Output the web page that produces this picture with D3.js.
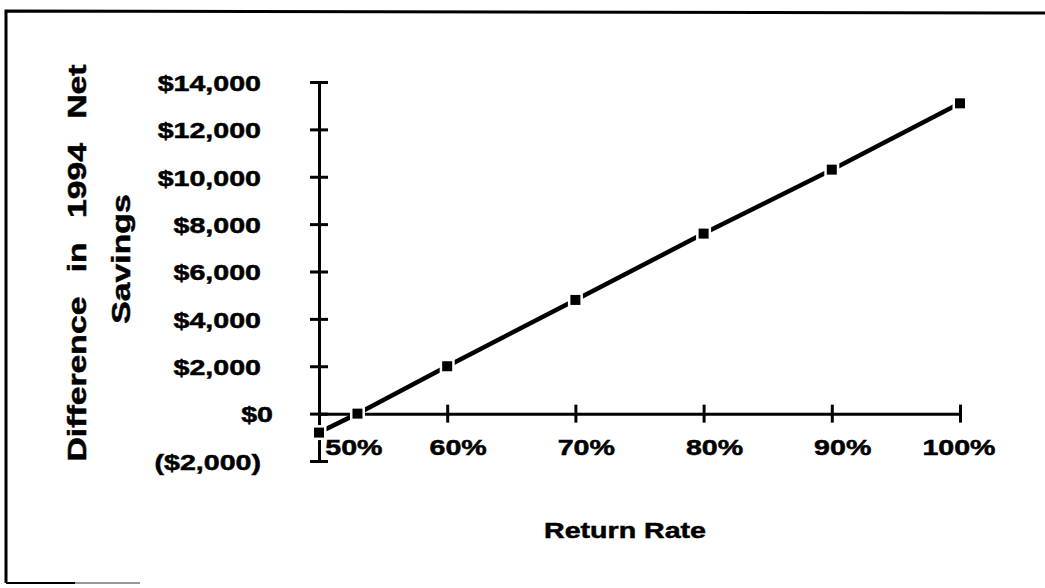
<!DOCTYPE html>
<html>
<head>
<meta charset="utf-8">
<script src="https://cdn.jsdelivr.net/npm/d3@7"></script>
<style>
  html, body { margin: 0; padding: 0; background: #fff; }
  svg text { font-family: "Liberation Sans", Arial, sans-serif; font-weight: bold; fill: #000; stroke: #000; stroke-width: 0.5px; }
</style>
</head>
<body>
<div id="chart"></div>
<script>
// data
const returnRates = [50, 53, 60, 70, 80, 90, 100];
const savingsDiff = [-800, 0, 2000, 4800, 7600, 10300, 13100];
const xTicks = [50, 60, 70, 80, 90, 100];
const yTicks = [-2000, 0, 2000, 4000, 6000, 8000, 10000, 12000, 14000];
const titleY1 = "Difference in 1994 Net";
const titleY2 = "Savings";
const titleX = "Return Rate";

main();

function main () {
  const width = 1045,
    height = 588;
  const fontSize = 22;
  const titleSize = 25;
  const stretch = 1.3; // the scanned type is wide, stretch it horizontally
  const titleStretch = 1.35;

  const svg = d3.select("#chart")
    .append("svg")
    .attr("width", width)
    .attr("height", height);

  // frame (scanned page border, left/top only)
  svg.append("path")
    .attr("d", "M6,583 L6,11 L1045,13")
    .attr("fill", "none")
    .attr("stroke", "#000")
    .attr("stroke-width", 3);
  svg.append("line")
    .attr("x1", 6).attr("x2", 75).attr("y1", 583).attr("y2", 583)
    .attr("stroke", "#000").attr("stroke-width", 2);
  svg.append("line")
    .attr("x1", 75).attr("x2", 140).attr("y1", 583).attr("y2", 583)
    .attr("stroke", "#999").attr("stroke-width", 2);

  // scales
  const scaleX = d3.scaleLinear().domain([50, 100]).range([319, 960]);
  const scaleY = d3.scaleLinear().domain([-2000, 14000]).range([461, 82]);

  const fmt = (v) => v < 0 ? `($${d3.format(",")(-v)})` : `$${d3.format(",")(v)}`;

  // y axis
  const gY = svg.append("g")
    .attr("transform", `translate(${scaleX(50)},0)`)
    .call(d3.axisLeft(scaleY).tickValues(yTicks).tickFormat(fmt).tickSizeOuter(0));
  gY.select(".domain").attr("stroke-width", 3);
  gY.selectAll(".tick line").attr("x1", -9).attr("x2", 9).attr("stroke-width", 3);
  gY.selectAll(".tick text")
    .attr("font-size", fontSize)
    .attr("font-family", null)
    .attr("text-anchor", "end")
    .attr("x", (d) => (d === 0 ? -46 : -58) / stretch)
    .attr("y", 0)
    .attr("dy", "0.38em")
    .attr("transform", `scale(${stretch},1)`);

  // x axis at y = 0
  const gX = svg.append("g")
    .attr("transform", `translate(0,${scaleY(0)})`)
    .call(d3.axisBottom(scaleX).tickValues(xTicks).tickFormat((d) => d + "%").tickSizeOuter(0));
  gX.select(".domain").attr("stroke-width", 3);
  gX.selectAll(".tick line").attr("y1", -9).attr("y2", 9).attr("stroke-width", 3);
  gX.selectAll(".tick text")
    .attr("font-size", fontSize)
    .attr("font-family", null)
    .attr("text-anchor", "end")
    .attr("x", (d) => (d === 50 ? 63 : d === 100 ? 35 : 39) / stretch)
    .attr("y", 41)
    .attr("dy", 0)
    .attr("transform", `scale(${stretch},1)`);

  // line + markers
  const pts = returnRates.map((r, i) => [r, savingsDiff[i]]);
  const line = d3.line().x((d) => scaleX(d[0])).y((d) => scaleY(d[1]));
  svg.append("path")
    .datum(pts)
    .attr("d", line)
    .attr("fill", "none")
    .attr("stroke", "#000")
    .attr("stroke-width", 4.5);
  svg.selectAll("rect.mark")
    .data(pts)
    .join("rect")
    .attr("class", "mark")
    .attr("x", (d) => scaleX(d[0]) - 5)
    .attr("y", (d) => scaleY(d[1]) - 5)
    .attr("width", 10)
    .attr("height", 10)
    .attr("fill", "#000")
    .attr("stroke", "#fff")
    .attr("stroke-width", 5)
    .attr("paint-order", "stroke");

  // titles
  const t1 = svg.append("text")
    .attr("transform", `translate(86,263) rotate(-90) scale(${titleStretch},1)`)
    .attr("text-anchor", "middle")
    .attr("font-size", titleSize)
    .text(titleY1);
  // spread the words over the full axis height, like the original
  const len = t1.node().getComputedTextLength();
  const target = 397 / titleStretch;
  t1.style("word-spacing", `${(target - len) / 3}px`);

  svg.append("text")
    .attr("transform", `translate(130,259) rotate(-90) scale(${titleStretch},1)`)
    .attr("text-anchor", "middle")
    .attr("font-size", titleSize)
    .text(titleY2);
  svg.append("text")
    .attr("transform", `translate(625,538) scale(${stretch},1)`)
    .attr("text-anchor", "middle")
    .attr("font-size", fontSize)
    .text(titleX);
}
</script>
</body>
</html>
